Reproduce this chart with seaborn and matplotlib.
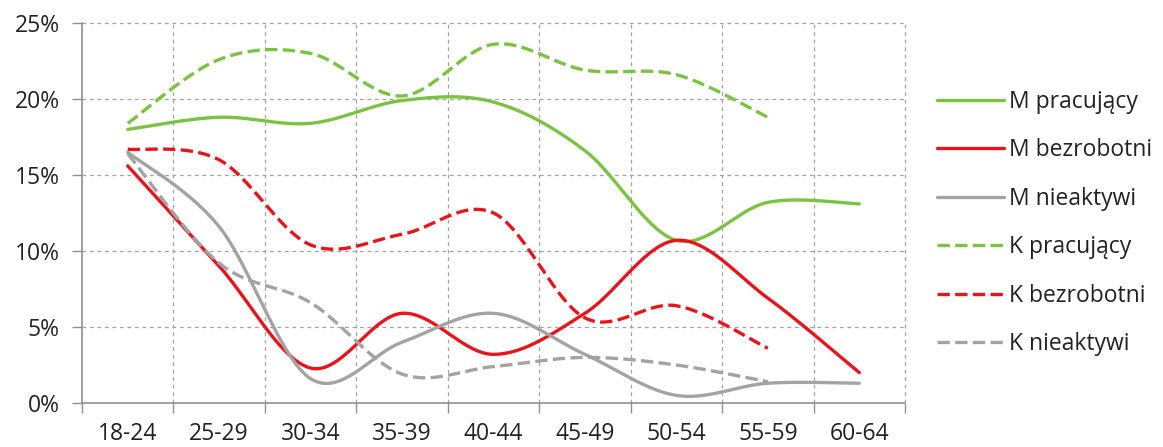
import numpy as np
import pandas as pd
import matplotlib
matplotlib.use("Agg")
import matplotlib.pyplot as plt
import seaborn as sns

categories = ["18-24", "25-29", "30-34", "35-39", "40-44", "45-49", "50-54", "55-59", "60-64"]
m_pracujacy = [18.0, 18.8, 18.4, 19.9, 19.8, 16.6, 10.7, 13.2, 13.1]
m_bezrobotni = [15.6, 9.0, 2.3, 5.9, 3.2, 5.9, 10.7, 6.9, 2.0]
m_nieaktywi = [16.5, 11.6, 1.6, 4.0, 5.9, 3.2, 0.5, 1.3, 1.3]
k_pracujacy = [18.4, 22.6, 23.0, 20.2, 23.6, 21.9, 21.6, 18.8]
k_bezrobotni = [16.7, 16.0, 10.4, 11.1, 12.5, 5.6, 6.4, 3.6]
k_nieaktywi = [16.4, 9.2, 6.6, 1.9, 2.4, 3.0, 2.5, 1.4]
y_ticks = [0, 5, 10, 15, 20, 25]

series = [
    ("M pracujący", m_pracujacy, "#7cc242", "-"),
    ("M bezrobotni", m_bezrobotni, "#e8141c", "-"),
    ("M nieaktywi", m_nieaktywi, "#a3a3a3", "-"),
    ("K pracujący", k_pracujacy, "#7cc242", "--"),
    ("K bezrobotni", k_bezrobotni, "#e8141c", "--"),
    ("K nieaktywi", k_nieaktywi, "#a3a3a3", "--"),
]


def smooth(xs, ys, n=40):
    """Excel-like smoothed line: cubic Bezier segments with Catmull-Rom control points."""
    xs = np.asarray(xs, float)
    ys = np.asarray(ys, float)
    px, py = [], []
    for i in range(len(xs) - 1):
        i0 = max(i - 1, 0)
        i3 = min(i + 2, len(xs) - 1)
        p0 = np.array([xs[i0], ys[i0]])
        p1 = np.array([xs[i], ys[i]])
        p2 = np.array([xs[i + 1], ys[i + 1]])
        p3 = np.array([xs[i3], ys[i3]])
        c1 = p1 + (p2 - p0) / 6.0
        c2 = p2 - (p3 - p1) / 6.0
        t = np.linspace(0, 1, n, endpoint=(i == len(xs) - 2))[:, None]
        pts = ((1 - t) ** 3) * p1 + 3 * ((1 - t) ** 2) * t * c1 + 3 * (1 - t) * t ** 2 * c2 + t ** 3 * p2
        px.extend(pts[:, 0])
        py.extend(pts[:, 1])
    return np.array(px), np.array(py)


sns.set_theme(style="white")
plt.rcParams["font.family"] = ["Open Sans", "DejaVu Sans"]

fig = plt.figure(figsize=(11.63, 4.47), dpi=100)
ax = fig.add_axes([82 / 1163, 44 / 447, (905 - 82) / 1163, (403 - 23) / 447])

for name, vals, color, ls in series:
    xs = np.arange(len(vals))
    sx, sy = smooth(xs, vals)
    df = pd.DataFrame({"x": sx, "y": sy})
    sns.lineplot(data=df, x="x", y="y", ax=ax, color=color, linestyle=ls,
                 linewidth=2.4, label=name, sort=False, estimator=None)

ax.set_xlim(-0.5, len(categories) - 0.5)
ax.set_ylim(0, 25)
ax.set_xlabel("")
ax.set_ylabel("")

grid_color = "#a0a0a8"
for b in np.arange(0.5, len(categories), 1.0):
    ax.axvline(b, color=grid_color, linestyle=(0, (3, 3)), linewidth=0.9, zorder=0, clip_on=False)
for yv in y_ticks[1:]:
    ax.axhline(yv, color=grid_color, linestyle=(0, (3, 3)), linewidth=0.9, zorder=0, clip_on=False)

ax.set_xticks(np.arange(-0.5, len(categories), 1.0))
ax.set_xticklabels([])
ax.set_xticks(np.arange(len(categories)), minor=True)
ax.set_xticklabels(categories, minor=True)
ax.tick_params(axis="x", which="major", direction="out", length=7, width=1, color="#909090", bottom=True)
ax.tick_params(axis="x", which="minor", length=0, pad=14, labelsize=16.5, labelcolor="#222222")

ax.set_yticks(y_ticks)
ax.set_yticklabels([f"{v}%" for v in y_ticks])
ax.tick_params(axis="y", direction="out", length=7, width=1, color="#909090", left=True,
               labelsize=16.5, labelcolor="#222222", pad=9)

for side in ["top", "right"]:
    ax.spines[side].set_visible(False)
for side in ["left", "bottom"]:
    ax.spines[side].set_color("#909090")
    ax.spines[side].set_linewidth(1.2)

handles, labels = ax.get_legend_handles_labels()
leg = ax.legend(handles, labels, loc="center left", bbox_to_anchor=(1.028, 0.474), frameon=False,
                fontsize=16.5, handlelength=2.9, handletextpad=0.25, labelspacing=1.07,
                borderaxespad=0)
for t in leg.get_texts():
    t.set_color("#222222")

fig.savefig("out.png", dpi=100)
